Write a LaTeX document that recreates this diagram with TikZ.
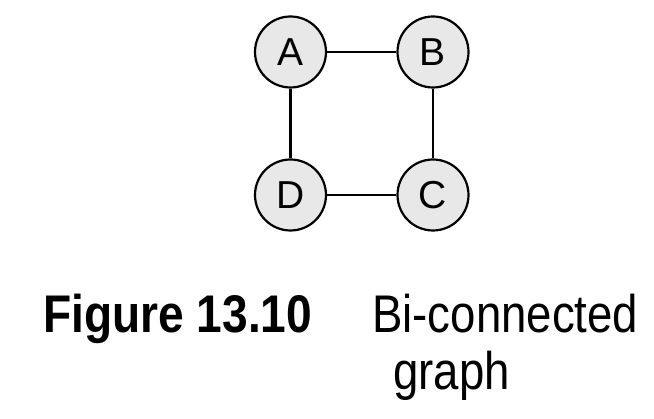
\documentclass[tikz,border=0pt]{standalone}
\usepackage{fontspec}
\setmainfont{Liberation Sans}
\begin{document}
\begin{tikzpicture}[x=1pt,y=-1pt,
  vert/.style={circle,draw=black,line width=2.2pt,fill=black!9,minimum size=71pt,inner sep=0pt,font=\fontsize{39}{39}\selectfont},
  edge/.style={line width=2.2pt},
  captext/.style={inner sep=0pt,anchor=base west,font=\fontsize{53}{53}\selectfont}]
\useasboundingbox (0,0) rectangle (654,419);
\node[vert] (A) at (290.5,52) {A};
\node[vert] (B) at (433,52) {B};
\node[vert] (D) at (290.5,195) {D};
\node[vert] (C) at (433,195) {C};
\draw[edge] (A) -- (B);
\draw[edge] (B) -- (C);
\draw[edge] (C) -- (D);
\draw[edge] (D) -- (A);
\node[captext] (fig) at (43,333) {\scalebox{0.87}[1]{\bfseries Figure 13.10}};
\node[captext] (t1) at (372,333) {\scalebox{0.86}[1]{Bi-connected}};
\node[captext] (t2) at (393,390) {\scalebox{0.86}[1]{graph}};
\end{tikzpicture}
\end{document}
